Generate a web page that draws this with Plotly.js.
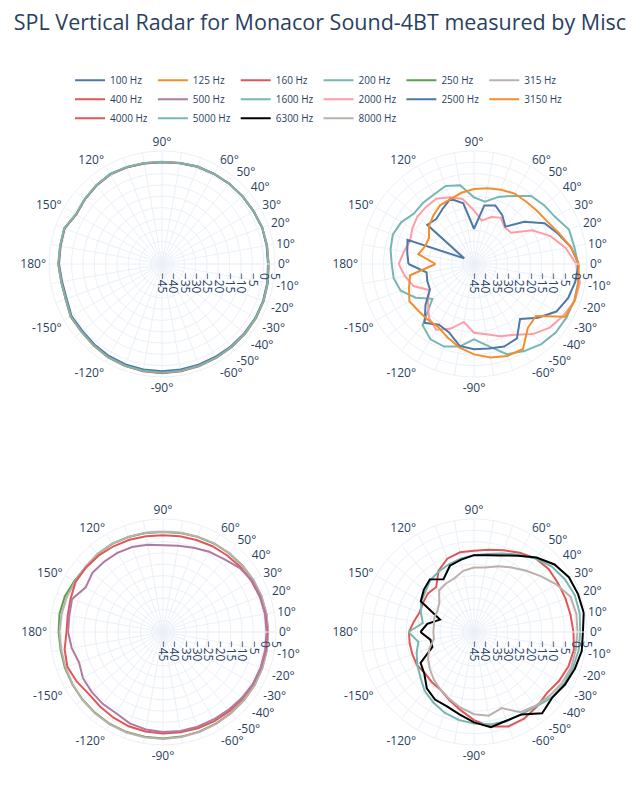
<!DOCTYPE html>
<html><head><meta charset="utf-8">
<script src="https://cdn.plot.ly/plotly-3.0.1.min.js"></script>
<style>body{margin:0;padding:0;}#chart{width:640px;height:800px;}</style>
</head><body><div id="chart"></div>
<script>
const theta = [-180,-170,-160,-150,-140,-130,-120,-110,-100,-90,-80,-70,-60,-50,-40,-30,-20,-10,0,10,20,30,40,50,60,70,80,90,100,110,120,130,140,150,160,170,180];

const spl100  = [0.6,-0.1,-0.1,1.2,1.0,1.5,2.0,2.3,2.4,2.5,2.4,2.4,2.4,2.5,2.6,2.7,2.6,2.3,1.9,2.0,2.1,1.7,1.5,1.3,1.0,0.8,0.3,0.0,0.2,0.5,0.8,0.2,-0.5,-1.2,0.9,0.6,0.6];
const spl125  = [0.9,0.3,0.4,1.7,1.6,2.1,2.7,3.0,3.2,3.3,3.2,3.1,3.0,3.0,3.0,3.0,2.9,2.6,2.2,2.2,2.2,1.8,1.6,1.4,1.1,0.9,0.4,0.1,0.3,0.6,0.9,0.3,-0.4,-1.1,1.0,0.8,0.9];
const spl160  = [0.8,0.2,0.3,1.6,1.5,2.0,2.6,2.9,3.1,3.2,3.1,3.0,2.9,2.9,2.9,2.9,2.8,2.5,2.1,2.1,2.2,1.8,1.6,1.4,1.1,0.9,0.4,0.1,0.3,0.6,0.9,0.3,-0.4,-1.1,1.0,0.7,0.8];
const spl200  = [0.9,0.3,0.3,1.6,1.5,2.0,2.6,2.9,3.0,3.1,3.0,2.9,2.9,2.9,2.9,2.9,2.8,2.5,2.1,2.2,2.2,1.8,1.6,1.4,1.1,0.9,0.4,0.2,0.4,0.7,1.0,0.4,-0.3,-1.0,1.1,0.8,0.9];

const spl250  = [1.2,1.0,1.2,1.3,1.5,1.7,2.0,2.1,2.1,2.1,2.0,1.9,1.8,1.8,1.8,1.8,1.7,1.6,1.5,1.4,1.3,1.1,0.8,0.5,0.2,-0.2,-0.5,-0.7,-0.5,-0.3,0.0,0.0,-0.3,0.2,1.2,1.5,1.2];
const spl315  = [0.8,0.7,0.9,1.2,1.6,1.9,2.2,2.3,2.3,2.3,2.2,2.1,2.0,1.9,1.9,1.9,1.8,1.7,1.6,1.5,1.4,1.2,0.9,0.6,0.3,-0.1,-0.4,-0.6,-0.4,-0.2,0.1,0.1,-0.2,-0.2,0.3,0.6,0.8];
const spl400  = [-2.3,-0.8,0.0,-1.0,-2.2,-1.8,-1.2,-0.6,-0.3,-0.1,0.0,0.3,0.5,0.7,0.9,1.0,1.1,1.2,1.2,1.0,0.6,0.2,-0.3,-0.8,-1.2,-1.7,-2.0,-2.2,-2.0,-1.6,-1.2,-0.8,-0.6,-0.4,-1.5,-2.2,-2.3];
const spl500  = [-3.0,-4.0,-5.5,-4.1,-3.8,-3.5,-3.5,-2.0,-1.2,-0.8,-0.5,-0.4,-0.3,0.0,0.5,1.0,1.0,0.9,0.8,0.8,0.8,0.5,-0.8,-2.9,-4.0,-5.3,-6.2,-6.6,-5.8,-5.0,-4.6,-4.4,-4.2,-5.5,-2.2,-2.9,-3.0];

const spl1600 = [-8.6,-8.9,-10.5,-15.2,-21.0,-9.6,-6.5,-6.1,-7.9,-11.7,-8.1,-2.5,-0.5,1.3,2.2,2.3,2.2,1.8,1.1,0.0,-0.3,-3.5,-4.5,-5.7,-10.2,-13.4,-17.0,-15.5,-9.6,-8.3,-9.5,-9.8,-10.3,-7.9,-6.8,-7.5,-8.6];
const spl2000 = [-11.7,-14.0,-16.5,-22.0,-18.4,-14.0,-11.4,-14.5,-19.0,-14.6,-13.4,-11.0,-8.9,-4.5,-1.2,0.7,2.5,2.6,0.2,-3.8,-9.0,-15.2,-23.5,-23.9,-21.3,-22.9,-25.5,-21.3,-15.8,-13.6,-11.7,-12.0,-12.3,-13.5,-14.9,-13.5,-11.7];
const spl2500 = [-16.0,-23.7,-23.0,-22.5,-17.0,-11.0,-14.0,-12.8,-8.2,-7.3,-7.0,-6.1,-7.0,-13.3,-8.0,-2.9,-0.7,0.5,1.3,-1.5,-5.5,-9.0,-16.0,-23.4,-20.0,-17.4,-18.7,-29.4,-17.7,-14.3,-17.0,-19.0,-18.0,-40.0,-13.7,-15.0,-16.0];
const spl3150 = [-28.0,-16.3,-14.4,-12.0,-12.8,-13.0,-13.0,-10.5,-7.5,-5.0,-3.0,-1.7,-1.6,-8.0,-9.2,1.6,2.4,1.9,1.4,-1.5,-5.0,-7.5,-8.5,-9.0,-9.0,-10.0,-11.0,-11.8,-13.0,-14.5,-15.0,-17.0,-19.0,-22.0,-22.0,-20.0,-28.0];

const spl4000 = [-16.2,-16.1,-16.0,-15.8,-16.6,-16.0,-15.5,-13.0,-10.0,-6.0,-2.5,-0.5,-0.7,-1.8,-2.9,-1.6,-0.5,-0.1,-1.0,-1.6,-1.9,-2.0,-1.8,-2.5,-4.5,-6.5,-8.0,-9.0,-9.2,-10.5,-13.6,-19.0,-18.4,-19.0,-19.4,-18.0,-16.2];
const spl5000 = [-16,-20,-18,-16,-14,-11,-9,-7,-5.5,-4.5,-3.5,-3,-3,-2,0,1,1.5,2,2,2.5,2.5,1.5,0,-2.5,-5.5,-8,-10,-11,-12,-13,-14,-15,-17,-18,-20,-22,-16];
const spl6300 = [-21.3,-25.4,-25.4,-17.7,-16.3,-12.5,-10.5,-10,-8,-5,-2.2,-3.2,-2.9,1.9,0.2,1.5,2.5,3.4,3.2,4.3,4,3.5,1.5,-2,-6,-9,-10.5,-11,-12.5,-13.8,-18,-14.6,-16,-17.8,-29,-24,-21.3];
const spl8000 = [-27,-27,-24,-21.5,-19.5,-17.4,-15.5,-13.4,-11,-8.6,-7.4,-9.2,-4,-2.5,-1.2,0,0.8,0.7,0.8,1,0.5,-2.9,-6.5,-9.5,-12,-14,-16,-16.5,-17.5,-19.7,-20.2,-21,-25,-26.3,-26.3,-27,-27];

const names = ["100 Hz","125 Hz","160 Hz","200 Hz","250 Hz","315 Hz","400 Hz","500 Hz","1600 Hz","2000 Hz","2500 Hz","3150 Hz","4000 Hz","5000 Hz","6300 Hz","8000 Hz"];
const series = [spl100,spl125,spl160,spl200,spl250,spl315,spl400,spl500,spl1600,spl2000,spl2500,spl3150,spl4000,spl5000,spl6300,spl8000];
const colors = ["#4e79a7","#f28e2b","#e15759","#76b7b2","#59a14f","#bab0ac","#e15759","#b07aa1","#76b7b2","#ff9da7","#4e79a7","#f28e2b","#e15759","#76b7b2","#000000","#bab0ac"];
const subplotOf = ["polar","polar","polar","polar","polar3","polar3","polar3","polar3","polar2","polar2","polar2","polar2","polar4","polar4","polar4","polar4"];

const angTickVals = [0,10,20,30,40,50,60,70,80,90,100,110,120,130,140,150,160,170,180,190,200,210,220,230,240,250,260,270,280,290,300,310,320,330,340,350];
const angTickText = ["0°","10°","20°","30°","40°","50°","60°","","","90°","","","120°","","","150°","","","180°","","","-150°","","","-120°","","","-90°","","","-60°","-50°","-40°","-30°","-20°","-10°"];
const radTickVals = [-45,-40,-35,-30,-25,-20,-15,-10,-5,0,5];

const traces = series.map((r,i)=>({
  type:"scatterpolar", mode:"lines", r:r, theta:theta, name:names[i],
  subplot:subplotOf[i], line:{color:colors[i], width:2}
}));

function polarLayout(dx, dy){
  return {
    domain:{x:dx, y:dy}, bgcolor:"white",
    angularaxis:{rotation:0, direction:"counterclockwise", tickmode:"array", tickvals:angTickVals, ticktext:angTickText,
      gridcolor:"#EBF0F8", linecolor:"#EBF0F8", ticks:"", tickfont:{size:12,color:"#2a3f5f"}},
    radialaxis:{range:[-45,5], tickmode:"array", tickvals:radTickVals, tickangle:90, angle:0,
      ticks:"outside", ticklen:6, tickcolor:"rgba(0,0,0,0)",
      gridcolor:"#EBF0F8", linecolor:"#EBF0F8", tickfont:{size:12,color:"#2a3f5f"}}
  };
}

const layout = {
  width:640, height:800, margin:{l:45,r:45,t:0,b:0},
  paper_bgcolor:"white", plot_bgcolor:"white",
  font:{family:'"Open Sans", verdana, arial, sans-serif', color:"#2a3f5f"},
  title:{text:"SPL Vertical Radar for Monacor Sound-4BT measured by Misc", x:0.5, xanchor:"center", y:0.972, yanchor:"middle", font:{size:21.5,color:"#2a3f5f"}},
  legend:{orientation:"h", x:0.0455, xanchor:"left", y:0.9178, yanchor:"top", font:{size:10,color:"#2a3f5f"}},
  polar: polarLayout([0.00727,0.41818],[0.52875,0.81125]),
  polar2: polarLayout([0.57455,0.98545],[0.52875,0.81125]),
  polar3: polarLayout([0.00909,0.42],[0.06875,0.35125]),
  polar4: polarLayout([0.57455,0.98545],[0.06875,0.35125]),
  showlegend:true
};

Plotly.newPlot("chart", traces, layout, {displayModeBar:false});
</script></body></html>
